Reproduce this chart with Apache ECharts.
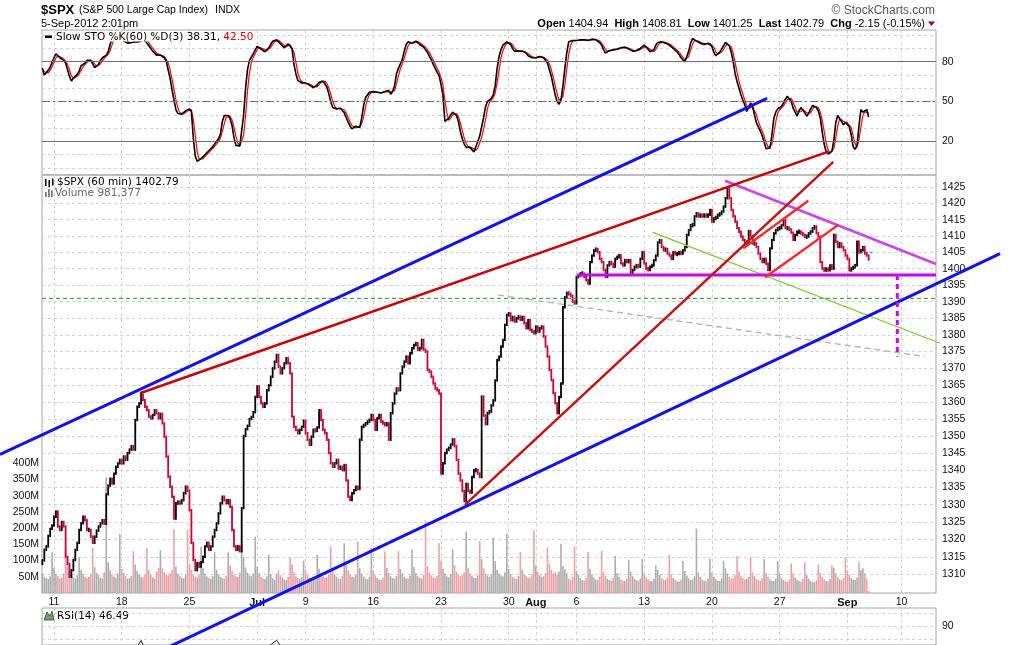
<!DOCTYPE html>
<html><head><meta charset="utf-8">
<script src="https://cdn.jsdelivr.net/npm/echarts/dist/echarts.min.js"></script>
<style>html,body{margin:0;padding:0;background:#fff}#c{width:1011px;height:645px}</style>
</head><body><div id="c"></div>
<script>
// ---------- DATA ----------
const weekStarts = [6, 41, 76, 111, 136, 171, 206, 241, 255, 276, 311, 346, 381, 416, 444];
const weekLabels = ['11','18','25','Jul','9','16','23','30','Aug','6','13','20','27','Sep','10'];
const monthLabels = ['Jul','Aug','Sep'];
const priceTicks = [1310,1315,1320,1325,1330,1335,1340,1345,1350,1355,1360,1365,1370,1375,1380,1385,1390,1395,1400,1405,1410,1415,1420,1425];
const volTicks = [50,100,150,200,250,300,350,400];
const oscGridVals = [0,10,20,30,40,50,60,70,80,90,100];
const stoLabelVals = [20,50,80];
const rsiLabelVals = [90];
const open0 = 1313;
// hourly closes, one row per trading day (Jun 8 .. Sep 5)
const closes = [
 1314,1317,1318,1321,1323,1324,
 1326.5,1328,1323.7,1322.7,1325,1323.7,1315,
 1313,1309.3,1311.2,1314.1,1317,1319,1322.7,
 1324.6,1326.5,1325.5,1322.7,1322.7,1320.8,1319,
 1320.8,1322.5,1323.7,1324.6,1325.5,1324.5,1333,
 1335.5,1337.5,1336.1,1339,1341,1342,1343,
 1342,1344,1343,1345,1346,1347,1346,
 1354.7,1358.6,1359.6,1362.1,1360.6,1358.6,1357.6,
 1355.7,1355.2,1356.2,1357.6,1356.7,1355.2,1356.5,
 1353.7,1349.8,1344,1338.1,1335.2,1332.3,1326,
 1330.4,1330.8,1330.4,1331.3,1333.3,1335.2,1334,
 1328.4,1319,1314.1,1311.2,1313.2,1312.2,1313.5,
 1315,1318,1319,1317,1318,1320.8,1322.7,
 1324.6,1327.5,1330.4,1332.3,1331.3,1330.4,1331.3,
 1329.4,1322.7,1318,1317,1318,1316.6,1329,
 1350,1352,1353,1355,1355.6,1357,1361.5,
 1364.6,1361.5,1359.6,1358.6,1359.6,1363.5,1365,
 1367.5,1370,1372,1374,
 1370.5,1368.5,1370,1371.5,1373,1371.5,1368.5,
 1355.7,1352.7,1351.8,1350.8,1351.8,1352.7,1354.5,
 1350.8,1348.9,1347.4,1349.8,1351.8,1351.5,1352.5,
 1357.6,1354.7,1351.8,1350.8,1348.9,1345,1342,
 1341,1342,1343,1340.5,1341,1340,1341.5,
 1337,1332.3,1331.3,1333.3,1334.2,1335.2,1334.5,
 1348.9,1352.7,1353.2,1353.7,1354.2,1354.7,1356.2,
 1354.7,1351.8,1355.2,1356.2,1354.2,1353.7,1353.2,
 1353.7,1348.9,1356.7,1359.6,1362.5,1364,1363.5,
 1368.5,1370.5,1372,1373.5,1371.5,1374.5,1376,
 1377,1377.5,1375.5,1376,1378.5,1375.5,1375,
 1369.5,1369,1367.5,1365.5,1364,1363.5,1362.5,
 1339,1342,1345,1346,1346.5,1347.5,1349,
 1347,1343,1339,1337,1334,1331,1336,
 1334,1333.5,1338,1340,1340,1339,1338,
 1361.6,1356,1353.5,1356.8,1357.2,1359,1360.5,
 1366.4,1372.5,1373.5,1376.5,1378.5,1383,1386,
 1386.4,1384.4,1385.4,1384,1385,1385.5,1384.5,
 1385.4,1383.5,1382,1384.4,1381.5,1381,1380.5,
 1382.5,1381,1382,1382.5,1379.5,1376.5,1373.5,
 1369.5,1366.5,1362.6,1359.6,1356.7,1361.5,1365.5,
 1388.3,1391.3,1392.7,1392.3,1391.8,1390,1389.5,
 1397.5,1398,1398.5,1398.5,1397.5,1396.5,1395.5,
 1402,1404,1405.6,1406,1405,1403,1402,
 1399.6,1397.5,1401,1402,1401.5,1400.6,1403,
 1403.6,1404,1401.6,1401,1402.6,1402,1402.6,
 1398.6,1399.6,1400.6,1401,1400.6,1403,1405,
 1401.6,1400,1399.6,1400.6,1401,1402.6,1404,
 1408,1408.7,1406.6,1405.6,1406,1404.6,1404,
 1403,1405,1404.5,1404.5,1405,1404.6,1405.6,
 1406.6,1410.3,1411.8,1413.3,1413.3,1416,1417,
 1416,1416.5,1416,1416.5,1416,1416.5,1418,
 1414.4,1415.4,1415.6,1416.5,1416.7,1417.5,1419,
 1421.6,1424.7,1421.6,1418,1416,1414.4,1412.4,
 1411.3,1409.8,1408.8,1407.7,1408.2,1411.5,1410,
 1407.7,1407.7,1406.6,1404.6,1403,1402,1403,
 1401.5,1399.6,1406.2,1408.8,1410.8,1411.8,1412.4,
 1412.4,1413.3,1414.9,1412.4,1412.4,1412,1411,
 1408.8,1410.3,1411.3,1411.3,1410.8,1410.3,1409.8,
 1409.8,1410.8,1411.3,1412.4,1412.9,1410.8,1409.8,
 1402,1400,1399.5,1400,1399.5,1401,1400,
 1410.3,1408.2,1406.6,1407.7,1406.6,1405.6,1404,
 1403,1399.5,1400,1400.5,1401,1408.2,1405,
 1405.6,1406.6,1404.6,1404,1402.8
];
// hourly volume in millions, same layout
const volumes = [
 62,50,46,43,52,126,
 78,58,52,45,47,60,140,
 85,66,54,48,44,55,110,
 72,60,50,46,49,58,140,
 80,62,55,47,45,64,357,
 95,70,58,50,47,60,182,
 74,62,53,44,46,52,129,
 88,68,56,50,48,56,140,
 70,55,48,45,66,78,132,
 76,64,58,55,60,72,197,
 82,60,52,47,45,58,194,
 90,72,56,50,47,55,143,
 76,60,52,46,44,52,127,
 72,58,50,46,44,54,125,
 85,68,58,52,50,62,149,
 110,78,62,55,52,60,174,
 80,62,50,45,43,52,119,
 58,45,40,60,
 70,55,48,42,40,50,109,
 88,64,52,46,44,50,100,
 72,56,48,42,40,48,119,
 75,60,52,46,48,60,144,
 70,58,50,45,43,52,154,
 92,70,58,50,48,56,159,
 76,60,50,44,42,50,139,
 70,55,47,42,40,48,129,
 78,62,52,46,44,52,129,
 74,60,50,45,44,54,134,
 80,62,52,47,45,56,224,
 82,64,54,48,46,54,154,
 100,75,60,52,48,58,134,
 85,66,56,52,55,64,190,
 78,62,54,48,46,56,160,
 105,76,60,54,50,58,171,
 98,72,60,54,52,64,184,
 74,58,50,45,43,52,127,
 72,58,52,46,48,58,193,
 85,66,56,50,52,62,141,
 90,72,60,64,58,66,152,
 83,73,61,45,40,50,143,
 68,55,46,40,38,46,127,
 75,58,48,42,40,50,130,
 65,52,44,40,38,46,114,
 62,50,42,38,37,44,102,
 66,52,44,40,38,45,105,
 60,48,42,38,36,44,86,
 72,56,46,42,40,48,117,
 58,47,40,36,35,42,99,
 68,54,45,40,42,52,199,
 64,50,42,38,36,44,105,
 62,50,42,38,37,45,99,
 76,60,50,44,46,55,114,
 66,54,46,42,44,50,108,
 64,52,44,40,38,46,105,
 62,50,42,38,37,45,99,
 58,46,40,36,34,42,91,
 60,48,40,37,35,43,95,
 55,44,38,34,33,40,88,
 62,50,42,38,36,44,86,
 78,60,48,42,40,46,110,
 70,56,46,42,40,48,97,
 71,76,61,45,7
];
// Slow STO %K(60), one value per hourly bar
const stoK = [
 75,70,71,73.5,76,79.5,83,86,84.5,83,
 82,81,79,74,69,65.5,67.5,69,70.5,73,
 77,78,79,81,82,81,78.5,75.5,76,78,
 81,83,84,85,87.5,93,97.5,99.5,100,100,
 100,98,95.5,94.5,94,94,94.5,95,95,95,
 95,96,98.5,97,94,92,90.5,88,86.5,85,
 85,85,84.5,83,80.5,74,67.5,59,51,44,
 41,40,40.5,41.5,43,44.5,44.5,42.5,22.5,9,
 5,5.5,7,8.5,10,11.5,13,14.5,16,18,
 20,22,25.5,35,39.5,40.5,39.5,37,32,23,
 17,16,16.5,17.5,40,60,74,81,83.5,86,
 89,91.5,92,89.5,88,87.5,89,90.5,93,95.5,
 97,96.5,95,93.5,92,90.5,91.5,93.5,93.5,90,
 78,71,66,65,64,64,64,63,62.5,61.5,
 60.5,60,62.5,64.5,66,65.5,64.5,61,56,50,
 45.5,44,44.5,45,45,44.5,41.5,38,34.5,31.5,
 29.5,30,31.5,32,30.5,37.5,47,53,55,57,
 58,57.5,56,57,57.5,56.5,56.5,57.5,58,58.5,
 55.5,57.5,62,71,75,78.5,82,88,93,95,
 94,94,94.5,95.5,95.5,93,91.5,91,90,87,
 84,81.5,78,75,72,69.5,63,55,35,35,
 37.5,40,42,41.5,39.5,35,27.5,22,18,15.5,
 15,15.5,15,12,13,20,24,25,38,46,
 50,51.5,52.5,55,62,75,84,89,92.5,94,
 95,94.5,93,90,88,87.5,88,88,88,87.5,
 86.5,84.5,84,83,82.5,83,84,84,83,83,
 82,79,74,69,62,55,50,48,51,62,
 75,87,95,95.5,96,96,96,96,96.5,97,
 96.5,96.5,96,96.5,97,97,96.5,96,94.5,92.5,
 89,86.5,87.5,88.5,89,89,89.5,89.5,90,90.5,
 91,91,90.5,89.5,88.5,88,87.5,88.5,89.5,90,
 91,92.5,91,89.5,87.5,86.5,89,92.5,94.5,95,
 95,94.5,94,94,92.5,91,90,89,87.5,85.5,
 83,81.5,80,84,88,94,97.5,96.5,95.5,94.5,
 94,93.5,93,93.5,94,94,91.5,87,84.5,85.5,
 87,89.5,91,94.5,94.5,92,87,80,71,65,
 60,55,51,47.5,42.5,44,49,46,40,34,
 31,28,24,19.5,14.5,13,15,25,37.5,42,
 44.5,45,46.5,49,52,54,53.5,50,45,42,
 39,43,45.5,44,41.5,39,41,44.5,47,48,
 45.5,43,37.5,27,18,12.5,10.5,11,12.5,21,
 34,39.5,38,35,32.5,34.5,35,31,25,16,
 14,17,32,44,42,41,44,38.31
];
// RSI(14) [bar index, value] (panel mostly below the picture)
const rsiPoints = [[0,62],[5,66],[12,45],[19,55],[26,50],[33,66],[40,72],[47,70],[51,79.5],[55,66],[61,64],[68,38],[75,45],[82,32],[89,45],[96,52],[103,55],[110,74],[117,75],[121,79.5],[125,72],[128,64],[135,45],[142,45],[149,38],[156,39],[163,36],[170,55],[177,52],[184,63],[191,70],[198,71],[205,58],[212,40],[219,38],[226,42],[233,58],[240,74],[247,70],[254,62],[261,52],[268,48],[275,68],[282,70],[289,72],[296,66],[303,64],[310,66],[317,62],[324,62],[331,63],[338,72],[345,74],[352,73],[355,75],[359,58],[366,54],[373,46],[380,56],[387,56],[394,55],[401,56],[408,44],[415,52],[422,50],[427,46.49]];
// annotation lines: [bar index, price]
const blueUpper   = [[-21.9, 1344.6], [374.5, 1452.8]];
const blueLower   = [[63.4, 1289.0], [494.9, 1404.6]];
const redLong     = [[50.4, 1362.6], [406.2, 1436.1]];
const redSteep    = [[218.4, 1329.9], [408.7, 1432.9]];
const redChanHi   = [[362.2, 1406.2], [395.8, 1420.8]];
const redChanLo   = [[373.4, 1397.3], [411.3, 1413.4]];
const magentaDown = [[352.8, 1427.0], [461.8, 1401.4]];
const magentaFlat = [[276.3, 1398.1], [461.8, 1398.1]];
const greenSlope  = [[315.4, 1411.1], [463.9, 1377.5]];
const grayDashed  = [[235.6, 1392.0], [456.1, 1373.5]];
const greenLevel  = [[-0.2, 1391], [461.8, 1391]];
const projection  = [[441.8, 1398.1], [441.8, 1373.5]];
const lastMark    = [[422.5, 1405], [429, 1405]];

// ---------- CHART ----------
const L = Math.log;
const X_MIN = -0.2, X_MAX = 461.8;
const AX_FONT = '"Liberation Sans", Arial, sans-serif';
const LG_FONT = '"DejaVu Sans", Verdana, sans-serif';
const prevClose = i => i ? closes[i - 1] : open0;
const isUp = closes.map((c, i) => c >= prevClose(i));
const priceData = closes.map((c, i) => [i, L(prevClose(i)), L(c)]);
const volData = volumes.map((v, i) => ({value: [i, v], itemStyle: {color: isUp[i] ? '#adadad' : '#eaa2a8'}}));
const stoD = stoK.map((v, i) => { const s = stoK.slice(Math.max(0, i - 2), i + 1); return s.reduce((a, b) => a + b, 0) / s.length; });

const gridLine = {show: true, lineStyle: {color: '#d2d2d2', type: [3, 3], width: 1}};
function xAx(gi, labels) {
  return {
    type: 'value', gridIndex: gi, min: X_MIN, max: X_MAX,
    axisLine: {show: false},
    axisTick: {show: false, customValues: weekStarts},
    axisLabel: labels ? {
      show: true, customValues: weekStarts, margin: 4, fontSize: 10.5, fontFamily: AX_FONT, color: '#111',
      formatter: v => { const k = weekStarts.indexOf(Math.round(v)); const t = weekLabels[k] || ''; return monthLabels.includes(t) ? '{b|' + t + '}' : t; },
      rich: {b: {fontWeight: 'bold', fontSize: 11, fontFamily: AX_FONT, color: '#111'}}
    } : {show: false},
    splitLine: gridLine
  };
}

const baseGraphic = [
  {type: 'text', x: 41, y: 10.5, style: {text: '$SPX', font: 'bold 13px ' + AX_FONT, fill: '#000', verticalAlign: 'middle'}},
  {type: 'text', x: 79, y: 10.5, style: {text: '(S&P 500 Large Cap Index)', font: '10.5px ' + AX_FONT, fill: '#000', verticalAlign: 'middle'}},
  {type: 'text', x: 215, y: 10.5, style: {text: 'INDX', font: '10.5px ' + AX_FONT, fill: '#000', verticalAlign: 'middle'}},
  {type: 'text', x: 41, y: 23.5, style: {text: '5-Sep-2012 2:01pm', font: '11px ' + AX_FONT, fill: '#000', verticalAlign: 'middle'}},
  {type: 'text', x: 935, y: 10.5, style: {text: '\u00A9 StockCharts.com', font: '12px ' + AX_FONT, fill: '#555', align: 'right', verticalAlign: 'middle'}},
  {type: 'text', x: 925, y: 23.5, style: {
    text: '{b|Open} 1404.94  {b|High} 1408.81  {b|Low} 1401.25  {b|Last} 1402.79  {b|Chg} -2.15 (-0.15%)',
    font: '11px ' + AX_FONT, fill: '#000', align: 'right', verticalAlign: 'middle',
    rich: {b: {fontWeight: 'bold', fontSize: 11, fontFamily: AX_FONT, fill: '#000'}}}},
  {type: 'polygon', shape: {points: [[928, 21.5], [935, 21.5], [931.5, 26]]}, style: {fill: '#990033'}},
  // STO legend
  {type: 'rect', z: 20, shape: {x: 45, y: 35.5, width: 7, height: 2.5}, style: {fill: '#000'}},
  {type: 'text', z: 20, x: 56, y: 37, style: {text: '{k|Slow STO %K(60) %D(3) 38.31,} {d|42.50}', font: '10.5px ' + LG_FONT, verticalAlign: 'middle',
    backgroundColor: '#ffffff', lineHeight: 9,
    rich: {k: {fill: '#000', fontSize: 10.5, fontFamily: LG_FONT, lineHeight: 9}, d: {fill: '#e00000', fontSize: 10.5, fontFamily: LG_FONT, lineHeight: 9}}}},
  // price legend
  {type: 'rect', shape: {x: 45, y: 179, width: 1.5, height: 7}, style: {fill: '#000'}},
  {type: 'rect', shape: {x: 48.5, y: 180, width: 1.5, height: 7}, style: {fill: '#000'}},
  {type: 'rect', shape: {x: 52, y: 178.5, width: 1.5, height: 7}, style: {fill: '#000'}},
  {type: 'text', x: 57, y: 182.5, style: {text: '$SPX (60 min) 1402.79', font: '10.5px ' + LG_FONT, fill: '#000', verticalAlign: 'middle'}},
  {type: 'rect', shape: {x: 45, y: 192, width: 1.8, height: 5}, style: {fill: '#7a7a7a'}},
  {type: 'rect', shape: {x: 48, y: 189, width: 1.8, height: 8}, style: {fill: '#7a7a7a'}},
  {type: 'rect', shape: {x: 51, y: 190.5, width: 1.8, height: 6.5}, style: {fill: '#7a7a7a'}},
  {type: 'text', x: 55, y: 193, style: {text: 'Volume 981,377', font: '10.5px ' + LG_FONT, fill: '#666', verticalAlign: 'middle'}},
  // RSI legend
  {type: 'polygon', shape: {points: [[44, 620], [47, 612], [49.5, 616], [52, 611], [54, 620]]}, style: {fill: '#7d9a6a', stroke: '#2d4a2a', lineWidth: 0.8}},
  {type: 'text', x: 57, y: 616, style: {text: 'RSI(14) 46.49', font: '10.5px ' + LG_FONT, fill: '#000', verticalAlign: 'middle'}}
];

const option = {
  animation: false,
  backgroundColor: '#ffffff',
  grid: [
    {left: 42, top: 30, width: 894, height: 145, show: true, borderColor: '#a6a6a6', borderWidth: 1},
    {left: 42, top: 175, width: 894, height: 418, show: true, borderColor: '#a6a6a6', borderWidth: 1},
    {left: 42, top: 608, width: 894, height: 37, show: true, borderColor: '#a6a6a6', borderWidth: 1}
  ],
  xAxis: [xAx(0, false), xAx(1, true), xAx(2, false)],
  yAxis: [
    {type: 'value', gridIndex: 0, position: 'right', min: -5.3, max: 103.9,
     axisLine: {show: false}, axisTick: {show: false, customValues: oscGridVals},
     axisLabel: {customValues: stoLabelVals, margin: 6, fontSize: 10.5, fontFamily: AX_FONT, color: '#111'},
     splitLine: gridLine},
    {type: 'value', gridIndex: 1, position: 'right', min: L(1304.7), max: L(1428.8),
     axisLine: {show: false}, axisTick: {show: false, customValues: priceTicks.map(L)},
     axisLabel: {customValues: priceTicks.map(L), margin: 6, fontSize: 10.5, fontFamily: AX_FONT, color: '#111',
       formatter: v => String(Math.round(Math.exp(v)))},
     splitLine: gridLine},
    {type: 'value', gridIndex: 1, position: 'left', min: 0, max: 1290,
     axisLine: {show: false}, axisTick: {show: false},
     axisLabel: {customValues: volTicks, margin: 3, fontSize: 10.5, fontFamily: AX_FONT, color: '#111', formatter: v => v + 'M'},
     splitLine: {show: false}},
    {type: 'value', gridIndex: 2, position: 'right', min: 76.04, max: 103.9,
     axisLine: {show: false}, axisTick: {show: false, customValues: [80, 90, 100]},
     axisLabel: {customValues: rsiLabelVals, margin: 6, fontSize: 10.5, fontFamily: AX_FONT, color: '#111'},
     splitLine: gridLine}
  ],
  series: [
    {type: 'bar', name: 'Volume', xAxisIndex: 1, yAxisIndex: 2, data: volData, barWidth: 1.6, silent: true, z: 1, animation: false},
    {type: 'custom', name: 'SPX', xAxisIndex: 1, yAxisIndex: 1, data: priceData, z: 3, silent: true,
     encode: {x: 0, y: [1, 2]},
     renderItem: function (params, api) {
       const i = api.value(0), o = api.value(1), c = api.value(2);
       const a = api.coord([i, o]), b = api.coord([i, c]);
       let y1 = Math.min(a[1], b[1]) - 1.2, y2 = Math.max(a[1], b[1]) + 1.2;
       if (y2 - y1 < 4.5) { const m = (y1 + y2) / 2; y1 = m - 2.25; y2 = m + 2.25; }
       return {type: 'rect', shape: {x: a[0] - 0.9, y: y1, width: 1.8, height: y2 - y1},
               style: {fill: c >= o ? '#000000' : '#cc0033'}};
     }},
    {type: 'line', name: '%D', xAxisIndex: 0, yAxisIndex: 0, data: stoD.map((v, i) => [i, v]),
     symbol: 'none', silent: true, z: 3, lineStyle: {color: '#ff0000', width: 1.2},
     markLine: {silent: true, symbol: ['none', 'none'], label: {show: false}, animation: false,
       data: [
         {yAxis: 80, lineStyle: {color: '#6e6e6e', type: 'solid', width: 1}},
         {yAxis: 20, lineStyle: {color: '#6e6e6e', type: 'solid', width: 1}},
         {yAxis: 50, lineStyle: {color: '#6e6e6e', type: [8, 3, 2, 3], width: 1}}
       ]}},
    {type: 'line', name: '%K', xAxisIndex: 0, yAxisIndex: 0, data: stoK.map((v, i) => [i, v]),
     symbol: 'none', silent: true, z: 4, lineStyle: {color: '#000000', width: 1.6}},
    {type: 'line', name: 'RSI', xAxisIndex: 2, yAxisIndex: 3, data: rsiPoints,
     symbol: 'none', silent: true, z: 3, lineStyle: {color: '#222', width: 1}}
  ],
  graphic: baseGraphic
};
const chart = echarts.init(document.getElementById('c'));
chart.setOption(option);

// annotation lines placed through the price pane's own scales
const annotations = [
  [greenLevel, '#2f8f2f', 1, [4, 3]],
  [grayDashed, '#b4b4b4', 1.4, [6, 4]],
  [greenSlope, '#7ccc2a', 1.2, null],
  [magentaFlat, '#cc00ff', 3, null],
  [magentaDown, '#cc44f0', 2.6, null],
  [redLong, '#cc0000', 2.4, null],
  [redSteep, '#c41010', 2.4, null],
  [redChanHi, '#ff2424', 2.4, null],
  [redChanLo, '#ff2424', 2.4, null],
  [blueUpper, '#1010f2', 3, null],
  [blueLower, '#1010f2', 3, null],
  [projection, '#cc00ff', 3, [5, 4]],
  [lastMark, '#3050ff', 1, [3, 2]]
];
const toPx = p => chart.convertToPixel({xAxisIndex: 1, yAxisIndex: 1}, [p[0], L(p[1])]);
const lineEls = annotations.map(([pts, color, w, dash]) => {
  const a = toPx(pts[0]), b = toPx(pts[1]);
  return {type: 'line', z: 50, silent: true, shape: {x1: a[0], y1: a[1], x2: b[0], y2: b[1]},
          style: {stroke: color, lineWidth: w, lineDash: dash, lineCap: 'butt'}};
});
chart.setOption({graphic: baseGraphic.concat(lineEls)});
</script></body></html>
